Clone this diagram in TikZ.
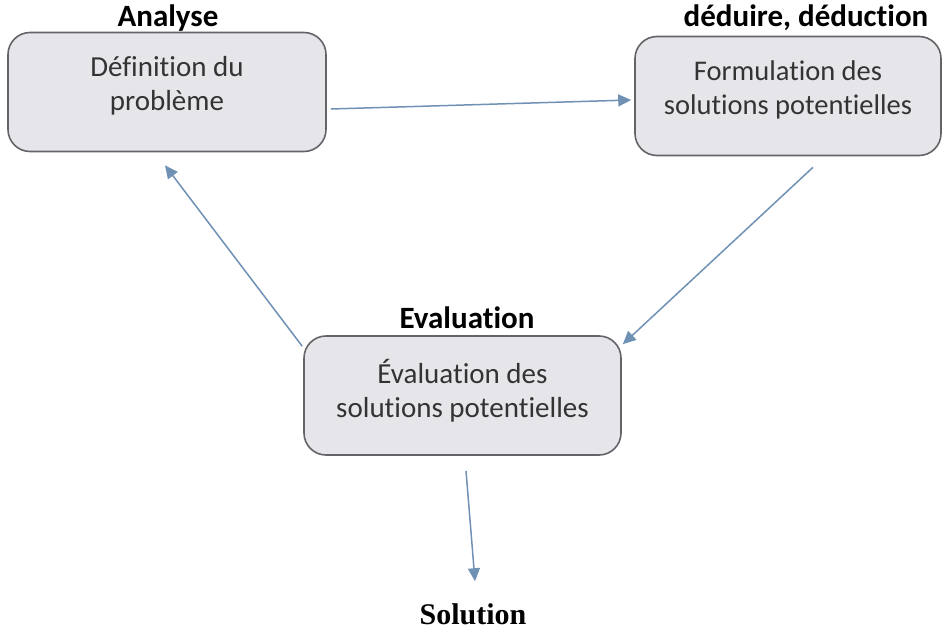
\documentclass[tikz,border=0pt]{standalone}
\usepackage{fontspec}
\setmainfont[Ligatures=NoCommon]{Carlito}
\newfontfamily\solfont{Liberation Serif}
\usetikzlibrary{arrows.meta}
\definecolor{boxfill}{RGB}{230,230,234}
\definecolor{boxline}{RGB}{100,100,104}
\definecolor{arrowcol}{RGB}{110,145,180}
\tikzset{
  procbox/.style={draw=boxline, line width=1.6pt, fill=boxfill, rounded corners=22pt,
    minimum height=119pt, align=center, inner sep=0pt, text=black!80,
    font=\fontsize{29}{34}\selectfont},
  headlabel/.style={font=\fontsize{31}{34}\selectfont\bfseries, inner sep=0pt},
  flow/.style={draw=arrowcol, line width=1.5pt, -{Triangle[length=13pt,width=12pt]}}
}
\begin{document}
\begin{tikzpicture}[x=1pt,y=-1pt]
\useasboundingbox (0,0) rectangle (944,634);
\node[procbox, minimum width=318pt, text depth=17pt] (b1) at (167,92) {Définition du\\problème};
\node[procbox, minimum width=306pt, text depth=16pt, font=\fontsize{28.5}{34}\selectfont] (b2) at (788,96) {Formulation des\\solutions potentielles};
\node[procbox, minimum width=317pt, text depth=15pt] (b3) at (462.5,395.5) {Évaluation des\\solutions potentielles};
\node[headlabel] (l1) at (168,18) {Analyse};
\node[headlabel] (l2) at (806,18) {déduire, déduction};
\node[headlabel] (l3) at (467,318) {Evaluation};
\node[font=\solfont\bfseries\fontsize{30}{32}\selectfont, inner sep=0pt] (sol) at (473,614) {Solution};
\draw[flow] ([xshift=4pt,yshift=-17pt]b1.east) -- ([xshift=-3pt,yshift=-4pt]b2.west);
\draw[flow] ([xshift=25pt,yshift=-11pt]b2.south) -- ([xshift=1pt,yshift=-9pt]b3.north east);
\draw[flow] ([xshift=-1pt,yshift=-11pt]b3.north west) -- ([xshift=-2pt,yshift=-13pt]b1.south);
\draw[flow] ([xshift=3.5pt,yshift=-15pt]b3.south) -- ([xshift=2pt,yshift=22pt]sol.north);
\end{tikzpicture}
\end{document}
